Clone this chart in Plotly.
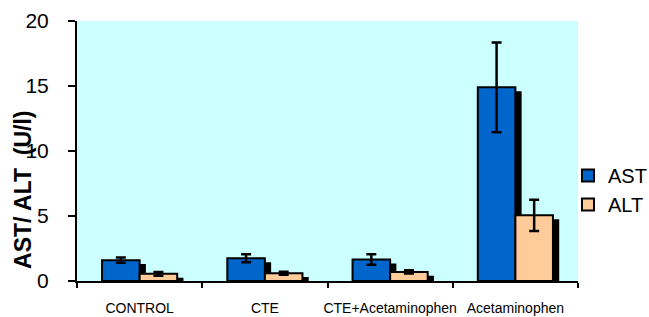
import plotly.graph_objects as go

categories = ["CONTROL", "CTE", "CTE+Acetaminophen", "Acetaminophen"]
ast_values = [1.6, 1.75, 1.65, 14.9]
ast_errors = [0.2, 0.3, 0.4, 3.45]
alt_values = [0.55, 0.6, 0.7, 5.05]
alt_errors = [0.15, 0.12, 0.12, 1.2]
y_ticks = [0, 5, 10, 15, 20]

AST_COLOR = "#0066CC"
ALT_COLOR = "#FFCC99"
SHADOW_DROP = 0.3
SHADOW_SHIFT = 0.05
BAR_W = 0.30

fig = go.Figure()

# shadows
fig.add_trace(go.Bar(x=categories, y=[max(v - SHADOW_DROP, 0) for v in ast_values],
                     offset=-BAR_W + SHADOW_SHIFT, width=BAR_W,
                     marker=dict(color="black", line=dict(width=0)),
                     showlegend=False, hoverinfo="skip"))
fig.add_trace(go.Bar(x=categories, y=ast_values, name="AST",
                     offset=-BAR_W, width=BAR_W,
                     marker=dict(color=AST_COLOR, line=dict(color="black", width=2)),
                     error_y=dict(type="data", array=ast_errors, color="black",
                                  thickness=2.5, width=5)))
fig.add_trace(go.Bar(x=categories, y=[max(v - SHADOW_DROP, 0) for v in alt_values],
                     offset=SHADOW_SHIFT, width=BAR_W,
                     marker=dict(color="black", line=dict(width=0)),
                     showlegend=False, hoverinfo="skip"))
fig.add_trace(go.Bar(x=categories, y=alt_values, name="ALT",
                     offset=0, width=BAR_W,
                     marker=dict(color=ALT_COLOR, line=dict(color="black", width=2)),
                     error_y=dict(type="data", array=alt_errors, color="black",
                                  thickness=2.5, width=5)))

fig.update_layout(
    width=649, height=317,
    margin=dict(l=77, r=71, t=21, b=36, autoexpand=False),
    paper_bgcolor="white",
    plot_bgcolor="#CCFFFF",
    barmode="overlay",
    font=dict(family="Arial, Liberation Sans, sans-serif", color="black"),
    legend=dict(x=0.98, xanchor="left", y=0.35, yanchor="middle",
                font=dict(size=20), bgcolor="rgba(0,0,0,0)",
                itemwidth=30, tracegroupgap=0),
    annotations=[dict(
        text="<b>AST/ ALT  (U/l)</b>", textangle=-90,
        xref="paper", yref="paper", x=-0.108, y=0.35,
        xanchor="center", yanchor="middle", showarrow=False,
        font=dict(size=23),
    )],
)
fig.update_xaxes(
    showline=True, linecolor="black", linewidth=2,
    ticks="outside", tickson="boundaries", ticklen=5, tickwidth=1.5, tickcolor="black",
    tickfont=dict(size=14), tickangle=0, ticklabelstandoff=13,
    showgrid=False, automargin=False,
)
fig.update_yaxes(
    range=[0, 20], tickvals=y_ticks,
    showline=True, linecolor="black", linewidth=2,
    ticks="outside", ticklen=7, tickwidth=1.5, tickcolor="black",
    tickfont=dict(size=21), ticklabelstandoff=15,
    showgrid=False, zeroline=False, automargin=False,
)

fig.write_html("out.html", config={"displayModeBar": False},
               post_script="document.body.style.margin='0px';")
